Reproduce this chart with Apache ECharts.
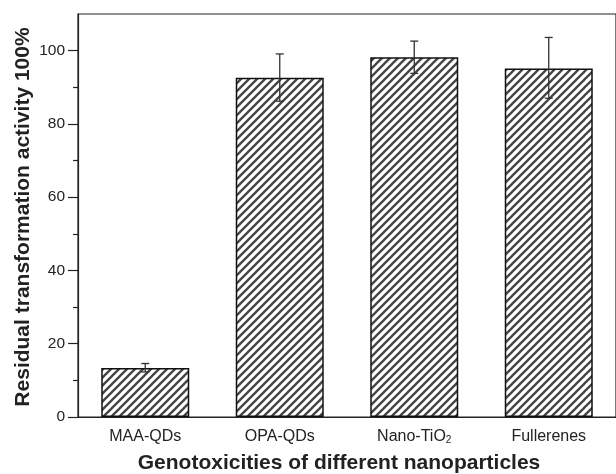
<!DOCTYPE html>
<html><head><meta charset="utf-8">
<script src="https://cdn.jsdelivr.net/npm/echarts@6.0.0/dist/echarts.min.js"></script>
<style>html,body{margin:0;padding:0;background:#fff}#c{width:616px;height:474px}</style>
</head><body><div id="c"></div>
<script>
const categories = ['MAA-QDs', 'OPA-QDs', 'Nano-TiO2', 'Fullerenes'];
const values = [13.4, 92.6, 98.2, 95.1];
const errLow = [12.3, 86.2, 93.8, 87.0];
const errHigh = [14.6, 99.1, 102.6, 103.6];
const yTicks = [0, 20, 40, 60, 80, 100];
const yMinorTicks = [10, 30, 50, 70, 90];
const xTitle = 'Genotoxicities of different nanoparticles';
const yTitle = 'Residual transformation activity 100%';

const P = 8;
const tile = document.createElement('canvas');
tile.width = P; tile.height = P;
const tc = tile.getContext('2d');
tc.fillStyle = '#fff'; tc.fillRect(0, 0, P, P);
tc.strokeStyle = '#444'; tc.lineWidth = 2.3;
for (const k of [-P, 0, P]) { tc.beginPath(); tc.moveTo(k - 1, P + 1); tc.lineTo(k + P + 1, -1); tc.stroke(); }

const FONT = 'Liberation Sans, Arial, sans-serif';
const chart = echarts.init(document.getElementById('c'), null, {renderer: 'canvas'});
chart.setOption({
  animation: false,
  backgroundColor: '#fff',
  grid: {left: 78, right: -3, top: 14, bottom: 57, show: true, borderColor: '#222', borderWidth: 1.2, backgroundColor: 'transparent'},
  xAxis: [{
    type: 'category', data: categories, position: 'bottom',
    axisLine: {lineStyle: {color: '#222', width: 1.2}},
    axisTick: {alignWithLabel: true, length: 6, lineStyle: {color: '#222', width: 1.2}},
    axisLabel: {interval: 0, margin: 12, fontFamily: FONT, fontSize: 16, color: '#222',
      formatter: v => v === 'Nano-TiO2' ? 'Nano-TiO{sub|2}' : v,
      rich: {sub: {fontFamily: FONT, fontSize: 10, color: '#222', verticalAlign: 'bottom', padding: [5, 0, 0, 0]}}},
    splitLine: {show: false}
  }, {
    type: 'category', data: categories, position: 'bottom',
    axisLine: {show: false},
    axisTick: {length: 4, lineStyle: {color: '#222', width: 1.2}},
    axisLabel: {show: false}, splitLine: {show: false}
  }],
  yAxis: [{
    type: 'value', min: 0, max: 110, interval: 10, position: 'left',
    axisLine: {show: true, lineStyle: {color: '#222', width: 1.2}},
    axisTick: {show: true, length: 10, customValues: yTicks, lineStyle: {color: '#222', width: 1.2}},
    axisLabel: {margin: 13, fontFamily: FONT, fontSize: 15.5, color: '#222', customValues: yTicks},
    splitLine: {show: false}
  }, {
    type: 'value', min: 0, max: 110, interval: 10, position: 'left',
    axisLine: {show: false},
    axisTick: {show: true, length: 5, customValues: yMinorTicks, lineStyle: {color: '#222', width: 1.2}},
    axisLabel: {show: false}, splitLine: {show: false}
  }],
  series: [{
    type: 'bar', data: values, barWidth: 88, xAxisIndex: 0, yAxisIndex: 0,
    itemStyle: {color: {image: tile, repeat: 'repeat'}, borderColor: '#111', borderWidth: 1.5}
  }, {
    type: 'custom', xAxisIndex: 0, yAxisIndex: 0, z: 5,
    data: categories.map((c, i) => [i, errLow[i], errHigh[i]]),
    renderItem: function (params, api) {
      const x = api.value(0);
      const pHi = api.coord([x, api.value(2)]);
      const pLo = api.coord([x, api.value(1)]);
      const w = 4, st = {stroke: '#333', lineWidth: 1.3};
      return {type: 'group', children: [
        {type: 'line', shape: {x1: pHi[0], y1: pHi[1], x2: pLo[0], y2: pLo[1]}, style: st},
        {type: 'line', shape: {x1: pHi[0] - w, y1: pHi[1], x2: pHi[0] + w, y2: pHi[1]}, style: st},
        {type: 'line', shape: {x1: pLo[0] - w, y1: pLo[1], x2: pLo[0] + w, y2: pLo[1]}, style: st}
      ]};
    }
  }],
  graphic: [{
    type: 'text', x: 339, y: 463,
    style: {text: xTitle, fontFamily: FONT, fontSize: 21, fontWeight: 'bold', fill: '#222', align: 'center', verticalAlign: 'middle'}
  }, {
    type: 'text', x: 23, y: 217, rotation: Math.PI / 2,
    style: {text: yTitle, fontFamily: FONT, fontSize: 21, fontWeight: 'bold', fill: '#222', align: 'center', verticalAlign: 'middle'}
  }]
});
</script></body></html>
